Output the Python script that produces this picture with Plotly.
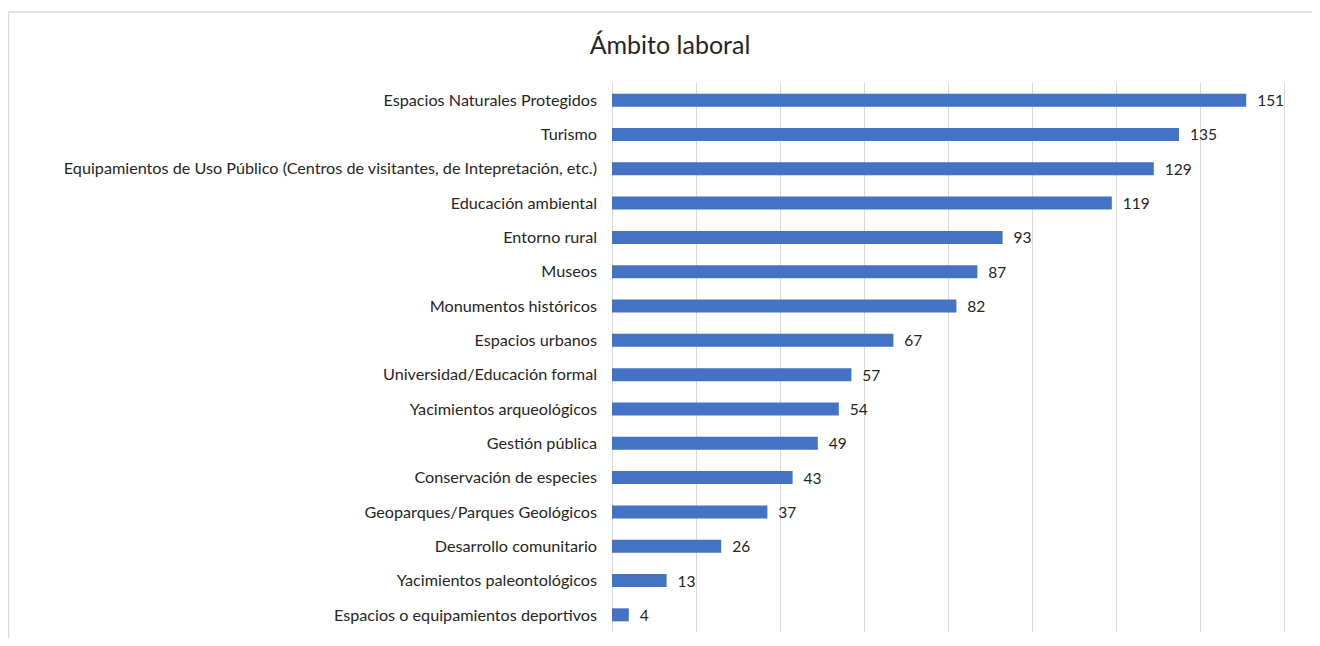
import plotly.graph_objects as go

categories = [
    "Espacios Naturales Protegidos",
    "Turismo",
    "Equipamientos de Uso Público (Centros de visitantes, de Intepretación, etc.)",
    "Educación ambiental",
    "Entorno rural",
    "Museos",
    "Monumentos históricos",
    "Espacios urbanos",
    "Universidad/Educación formal",
    "Yacimientos arqueológicos",
    "Gestión pública",
    "Conservación de especies",
    "Geoparques/Parques Geológicos",
    "Desarrollo comunitario",
    "Yacimientos paleontológicos",
    "Espacios o equipamientos deportivos",
]
values = [151, 135, 129, 119, 93, 87, 82, 67, 57, 54, 49, 43, 37, 26, 13, 4]
grid_ticks = [0, 20, 40, 60, 80, 100, 120, 140, 160]
title_text = "Ámbito laboral"

# page has an 8px body margin; work in figure coordinates
W, H = 1304, 630
L, R, T, B = 604, 1279, 75, 624
X_MAX = 160 * (R - L) / 672.0  # keep the 160 gridline a few px inside the plot area
FONT = "Lato, Open Sans, sans-serif"

fig = go.Figure(go.Bar(
    x=values,
    y=categories,
    orientation="h",
    marker=dict(color="#4472C4", line=dict(width=0)),
    width=0.38,
    texttemplate="\u00a0\u00a0%{x}",
    textposition="outside",
    constraintext="none",
    textfont=dict(family=FONT, size=15.5, color="#262626"),
    cliponaxis=False,
))

px = lambda v: (v - L) / (R - L)
py = lambda v: (B - v) / (B - T)

fig.update_layout(
    width=W, height=H,
    margin=dict(l=L, r=W - R, t=T, b=H - B, pad=0),
    paper_bgcolor="white",
    plot_bgcolor="white",
    showlegend=False,
    title=dict(
        text=title_text,
        x=662 / W, xanchor="center",
        y=1 - 37 / H, yanchor="middle", yref="container",
        font=dict(family=FONT, size=25, color="#262626"),
    ),
    xaxis=dict(
        range=[0, X_MAX],
        tickvals=grid_ticks,
        showgrid=True,
        gridcolor="#d9d9d9",
        gridwidth=1,
        zeroline=True,
        zerolinecolor="#d9d9d9",
        zerolinewidth=1,
        showticklabels=False,
        showline=False,
        fixedrange=True,
    ),
    yaxis=dict(
        autorange="reversed",
        showgrid=False,
        zeroline=False,
        showline=False,
        ticks="",
        ticklabelstandoff=14,
        tickfont=dict(family=FONT, size=16.2, color="#262626"),
    ),
    shapes=[
        dict(type="line", xref="paper", yref="paper",
             x0=px(0.5), x1=px(W + 10), y0=py(4), y1=py(4),
             line=dict(color="#d9d9d9", width=1.5), layer="below"),
        dict(type="line", xref="paper", yref="paper",
             x0=px(0.5), x1=px(0.5), y0=py(4), y1=py(H + 10),
             line=dict(color="#d9d9d9", width=1.5), layer="below"),
    ],
)

fig.write_html("out.html")
